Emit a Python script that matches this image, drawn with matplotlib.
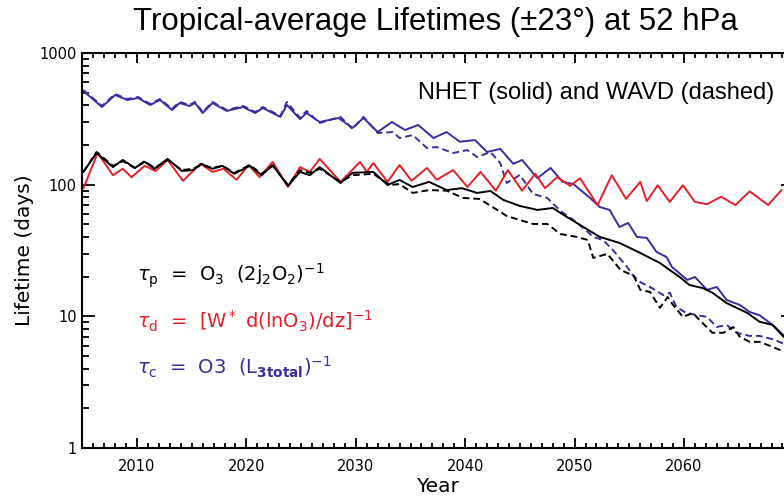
import numpy as np
import matplotlib
matplotlib.use("Agg")
from matplotlib import pyplot as plt
from matplotlib.ticker import MultipleLocator, LogLocator, NullFormatter, FixedLocator

# tau_d (NHET), red
red_years = [2005.1, 2006.4, 2007.8, 2008.7, 2009.5, 2010.7, 2011.7, 2012.8, 2014.2, 2015.8,
             2016.9, 2017.9, 2019.1, 2020.2, 2021.2, 2022.4, 2023.8, 2024.9, 2025.8, 2026.7,
             2028.6, 2030.4, 2031.0, 2031.6, 2032.9, 2034.0, 2035.1, 2036.5, 2037.4, 2038.9,
             2040.2, 2041.4, 2042.8, 2043.9, 2045.2, 2046.4, 2047.3, 2048.4, 2049.6, 2050.5,
             2052.1, 2053.4, 2054.7, 2056.0, 2056.6, 2057.6, 2058.7, 2059.9, 2061.0, 2062.1,
             2063.4, 2064.7, 2066.0, 2067.7, 2068.9]
red_vals = [94, 174, 118, 132, 114, 139, 127, 154, 107, 144,
            125, 132, 109, 141, 114, 149, 96, 136, 125, 157,
            105, 149, 125, 146, 105, 141, 107, 134, 109, 129,
            96, 125, 90, 129, 90, 121, 94, 114, 98, 112,
            70, 118, 78, 105, 75, 99, 74, 99, 74, 71,
            81, 70, 89, 70, 91]

# tau_p, black solid (NHET)
blk_years = [2005.1, 2006.3, 2007.8, 2008.7, 2009.8, 2010.7, 2011.6, 2012.8, 2014.1, 2015.1,
             2015.9, 2016.9, 2017.8, 2018.9, 2020.3, 2021.4, 2022.4, 2023.8, 2024.9, 2025.8,
             2026.7, 2028.6, 2029.7, 2031.6, 2032.9, 2034.0, 2035.2, 2036.7, 2038.3, 2039.7,
             2041.1, 2042.3, 2043.5, 2045.0, 2046.6, 2048.0, 2049.3, 2050.5, 2052.3, 2054.1,
             2056.0, 2057.8, 2059.6, 2060.5, 2061.7, 2062.6, 2063.9, 2065.8, 2066.9, 2068.1,
             2069.1]
blk_vals = [125, 174, 136, 154, 134, 149, 132, 157, 127, 129,
            144, 132, 139, 121, 139, 118, 141, 98, 125, 118,
            136, 103, 123, 125, 99.5, 108.6, 96, 105, 91, 94,
            86.5, 89.6, 76.5, 68.9, 64.3, 66.5, 56.8, 49.4, 40.1, 36.1,
            30.3, 25.4, 19.9, 17.3, 16.4, 15.1, 12.6, 10.6, 9.1, 8.6,
            7.0]

# tau_p, black dashed (WAVD)
blkd_years = [2005.1, 2006.3, 2007.8, 2008.7, 2009.8, 2010.7, 2011.6, 2012.8, 2014.1, 2015.1,
              2015.9, 2016.9, 2017.8, 2018.9, 2020.3, 2021.4, 2022.4, 2023.8, 2024.9, 2025.8,
              2026.7, 2028.6, 2029.7, 2031.6, 2033.1, 2034.0, 2035.2, 2036.7, 2038.3, 2039.8,
              2041.3, 2042.5, 2043.8, 2045.0, 2046.2, 2047.5, 2048.7, 2050.2, 2051.2, 2051.7,
              2053.0, 2054.2, 2055.4, 2056.0, 2056.9, 2057.8, 2058.5, 2059.0, 2059.9, 2060.8,
              2061.7, 2062.6, 2063.6, 2064.5, 2065.1, 2066.0, 2066.9, 2068.1, 2069.1]
blkd_vals = [125, 177, 139, 151, 134, 151, 134, 154, 129, 132,
             141, 134, 139, 123, 141, 121, 139, 99.5, 129, 123,
             132, 105, 118, 121, 99.5, 101, 86.5, 91, 90, 79.3,
             77.9, 67.7, 57.8, 53.9, 50.3, 50.3, 42.2, 40.1, 38.0, 27.8,
             29.8, 22.5, 20.3, 15.9, 15.3, 11.6, 14.0, 12.2, 9.9, 10.6,
             8.9, 7.5, 7.5, 8.3, 7.0, 6.4, 6.4, 5.86, 5.4]

# tau_c, blue solid (NHET)
blu_years = [2005.1, 2006.8, 2008.0, 2009.1, 2010.1, 2011.2, 2012.1, 2013.2, 2013.9, 2014.8,
             2015.3, 2016.0, 2016.9, 2018.2, 2019.7, 2020.8, 2021.5, 2023.1, 2023.7, 2024.9,
             2025.5, 2026.7, 2028.4, 2029.7, 2030.7, 2032.0, 2033.3, 2034.5, 2035.7, 2037.1,
             2038.3, 2039.5, 2040.9, 2042.0, 2043.2, 2044.4, 2045.2, 2046.6, 2047.8, 2048.9,
             2049.9, 2051.4, 2052.3, 2053.2, 2054.1, 2054.9, 2055.7, 2056.6, 2057.5, 2058.4,
             2058.9, 2060.3, 2061.0, 2062.1, 2063.0, 2063.9, 2065.1, 2066.0, 2066.9, 2068.1,
             2069.1]
blu_vals = [515, 389, 480, 440, 455, 403, 440, 369, 417, 396,
            417, 350, 417, 363, 389, 350, 382, 327, 403, 315,
            350, 299, 321, 270, 321, 251, 299, 260, 284, 226,
            251, 212, 218, 177, 187, 144, 154, 112, 134, 105,
            101, 79.3, 67.7, 64.3, 47.7, 51.2, 40.1, 39.4, 30.8, 28.2,
            23.7, 18.9, 19.9, 15.9, 16.7, 13.3, 12.2, 10.8, 10.2, 8.6,
            7.2]

# tau_c, blue dashed (WAVD)
blud_years = [2005.1, 2006.8, 2008.0, 2009.1, 2010.1, 2011.2, 2012.1, 2013.2, 2013.9, 2014.8,
              2015.3, 2016.0, 2016.9, 2018.2, 2019.7, 2020.8, 2021.5, 2023.1, 2023.7, 2024.9,
              2025.5, 2026.7, 2028.6, 2029.7, 2030.7, 2032.0, 2033.4, 2034.0, 2035.2, 2036.5,
              2037.4, 2038.9, 2040.2, 2041.1, 2042.3, 2043.2, 2043.8, 2045.0, 2046.2, 2047.5,
              2048.7, 2049.9, 2051.1, 2051.7, 2052.6, 2053.5, 2054.8, 2055.3, 2056.0, 2056.9,
              2058.1, 2058.7, 2059.3, 2060.2, 2061.2, 2062.1, 2063.0, 2063.9, 2064.8, 2066.0,
              2066.9, 2068.1, 2069.1]
blud_vals = [524, 396, 488, 447, 463, 410, 447, 376, 425, 403,
             425, 356, 425, 369, 396, 356, 389, 332, 425, 321,
             363, 294, 327, 265, 327, 247, 251, 226, 238, 190,
             193, 174, 183, 162, 177, 146, 103, 118.5, 85, 79.3,
             63.1, 53.9, 44.5, 40.1, 38.0, 31.9, 23.7, 20.6, 18.2, 16.7,
             14.5, 15.1, 11.8, 10.6, 10.2, 9.9, 8.3, 8.6, 7.5, 7.1,
             7.1, 6.7, 6.2]

xticks = [2010, 2020, 2030, 2040, 2050, 2060, 2070]
xlabels = ["2010", "2020", "2030", "2040", "2050", "2060", ""]
yticks = [1, 10, 100, 1000]

RED = "#e3202a"
BLUE = "#3b2b9e"

fig = plt.figure(figsize=(7.84, 4.99), dpi=100)
ax = fig.add_axes([0.105, 0.1022, 0.907, 0.7916])

ax.plot(blu_years, blu_vals, color=BLUE, lw=1.4)
ax.plot(blud_years, blud_vals, color=BLUE, lw=1.4, dashes=(3.5, 2))
ax.plot(red_years, red_vals, color=RED, lw=1.4)
ax.plot(blk_years, blk_vals, color="black", lw=1.4)
ax.plot(blkd_years, blkd_vals, color="black", lw=1.4, dashes=(3.5, 2))

ax.set_yscale("log")
ax.set_xlim(2005, 2070)
ax.set_ylim(1, 1000)

ax.xaxis.set_major_locator(FixedLocator(xticks))
ax.xaxis.set_minor_locator(MultipleLocator(1))
ax.yaxis.set_major_locator(FixedLocator(yticks))
ax.yaxis.set_minor_locator(LogLocator(base=10, subs=np.arange(2, 10)))
ax.yaxis.set_minor_formatter(NullFormatter())
ax.set_yticklabels([str(v) for v in yticks])
ax.set_xticklabels(xlabels)

for s in ax.spines.values():
    s.set_linewidth(1.5)
ax.tick_params(which="both", direction="in", top=True, right=True, width=1.3,
               labelsize=10.5)
ax.tick_params(axis="x", which="major", length=7, pad=8)
ax.tick_params(axis="x", which="minor", length=3.5)
ax.tick_params(axis="y", which="major", length=9, pad=4)
ax.tick_params(axis="y", which="minor", length=5)

ax.set_xlabel("Year", fontsize=14.5, labelpad=2)
ax.set_ylabel("Lifetime (days)", fontsize=14.5, labelpad=4)
fig.text(0.555, 0.955, "Tropical-average Lifetimes (\u00b123\u00b0) at 52 hPa",
         ha="center", va="center", fontsize=22.5, family="Liberation Sans")
fig.text(0.988, 0.813, "NHET (solid) and WAVD (dashed)", ha="right", va="center",
         fontsize=17, family="Liberation Sans")

ax.text(0.077, 0.436, r"$\tau_{\rm p}$  =  O$_3$  (2j$_2$O$_2$)$^{-1}$",
        transform=ax.transAxes, fontsize=14, color="black", va="center")
ax.text(0.077, 0.320, r"$\tau_{\rm d}$  =  [W$^*$ d(lnO$_3$)/dz]$^{-1}$",
        transform=ax.transAxes, fontsize=14, color=RED, va="center")
ax.text(0.077, 0.205, r"$\tau_{\rm c}$  =  O3  (L$_{\bf 3total}$)$^{-1}$",
        transform=ax.transAxes, fontsize=14, color=BLUE, va="center")

fig.savefig("out.png", dpi=100)
